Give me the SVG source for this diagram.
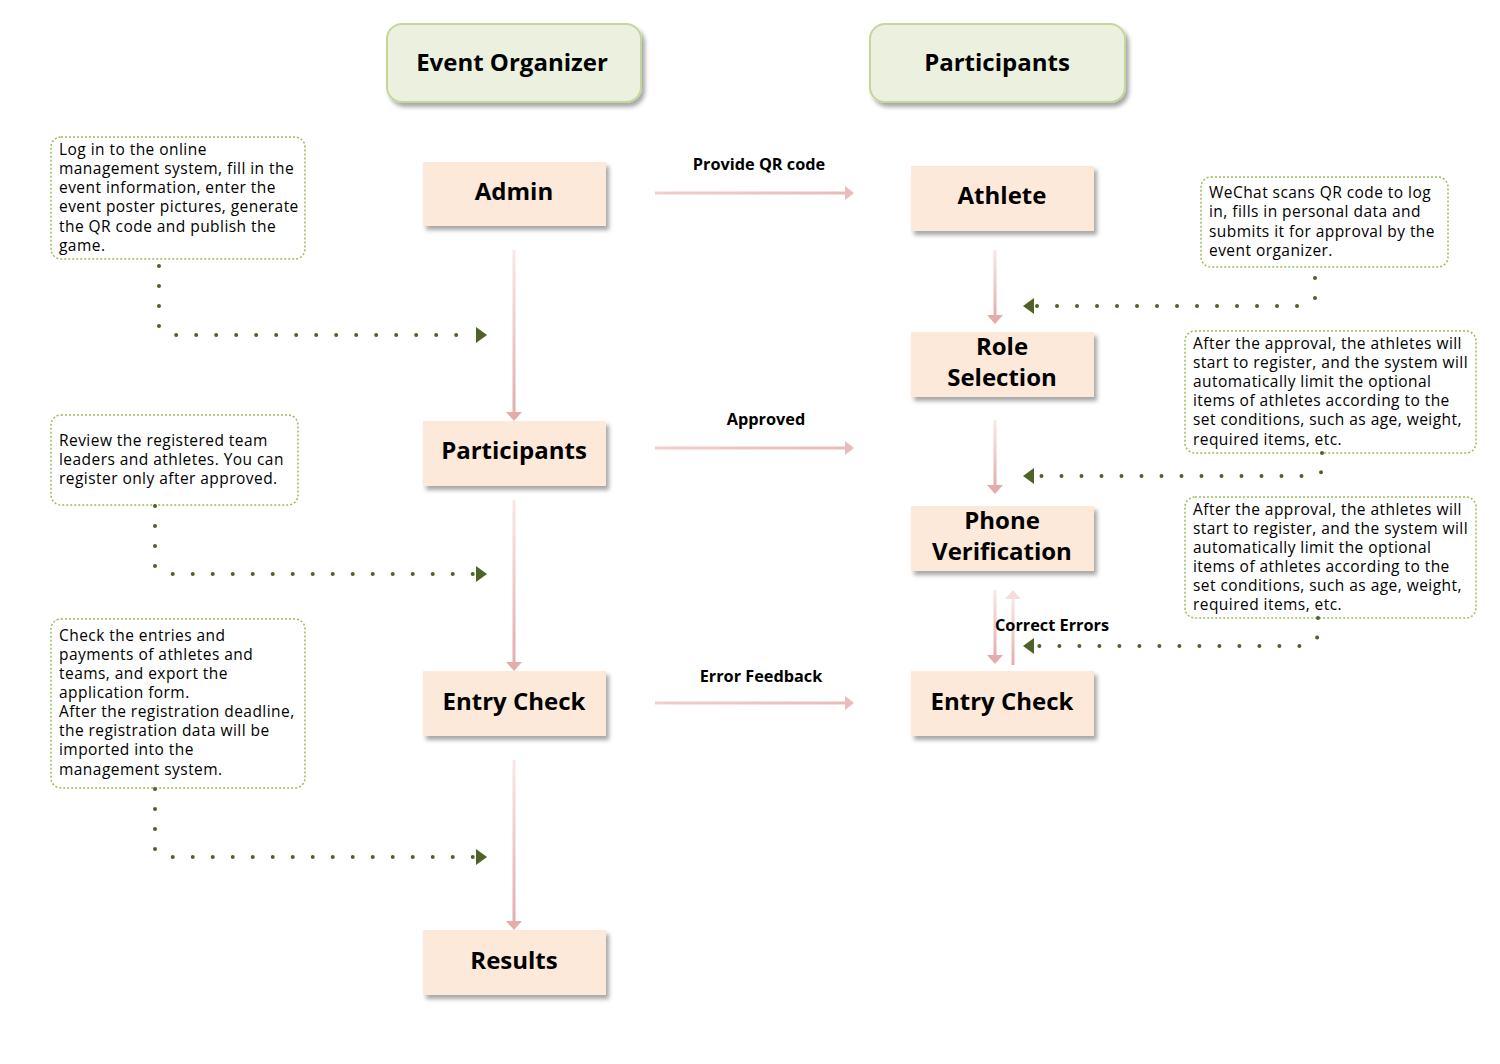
<svg xmlns="http://www.w3.org/2000/svg" width="1500" height="1064" viewBox="0 0 1500 1064">
<defs>
<filter id="sh" x="-10%" y="-10%" width="130%" height="140%">
<feDropShadow dx="3" dy="4" stdDeviation="2" flood-color="#000" flood-opacity="0.35"/>
</filter>
<linearGradient id="gv" x1="0" y1="0" x2="0" y2="1">
<stop offset="0" stop-color="#f9e8e7"/>
<stop offset="1" stop-color="#e4adab"/>
</linearGradient>
<linearGradient id="gh" x1="0" y1="0" x2="1" y2="0">
<stop offset="0" stop-color="#efcecd"/>
<stop offset="1" stop-color="#e9bcbb"/>
</linearGradient>
<marker id="dm" markerUnits="userSpaceOnUse" markerWidth="13" markerHeight="18" refX="0" refY="8" orient="auto">
<path d="M0,0 L11,8 L0,16 z" fill="#4f6228"/>
</marker>
<style>
.hdr{fill:#ebf1de;stroke:#c3d69b;stroke-width:2}
.node{fill:#fde9d9}
.note{fill:#fff;stroke:#9bbb59;stroke-width:1.5;stroke-dasharray:2 2}
.ht{font-family:"Open Sans","Liberation Sans",sans-serif;font-weight:bold;font-size:24px;fill:#000;text-anchor:middle}
.nt{font-family:"Open Sans","Liberation Sans",sans-serif;font-weight:bold;font-size:24px;fill:#000;text-anchor:middle}
.el{font-family:"Open Sans","Liberation Sans",sans-serif;font-weight:bold;font-size:16.3px;fill:#000;text-anchor:middle}
.tx{font-family:"Open Sans","Liberation Sans",sans-serif;font-size:15.5px;letter-spacing:0.45px;fill:#000}
.dot{fill:none;stroke:#4f6228;stroke-width:4;stroke-linecap:round;stroke-dasharray:0 20}
.sv{fill:url(#gv)}
.sh{fill:url(#gh)}
.hv{fill:#e4adab}
.hu{fill:#f6dcdb}
.hh{fill:#e9bcbb}
</style>
</defs>

<g id="hdr-organizer">
<rect class="hdr" x="387" y="24" width="254" height="78" rx="15" filter="url(#sh)"/>
<text class="ht" x="512" y="71">Event Organizer</text>
</g>
<g id="hdr-participants">
<rect class="hdr" x="870" y="24" width="255" height="78" rx="15" filter="url(#sh)"/>
<text class="ht" x="997" y="71">Participants</text>
</g>

<g id="admin">
<rect class="node" x="423" y="162" width="183" height="64" filter="url(#sh)"/>
<text class="nt" x="514" y="200">Admin</text>
</g>
<g id="participants-l">
<rect class="node" x="423" y="421" width="183" height="65" filter="url(#sh)"/>
<text class="nt" x="514" y="459">Participants</text>
</g>
<g id="entry-check-l">
<rect class="node" x="423" y="671" width="183" height="65" filter="url(#sh)"/>
<text class="nt" x="514" y="710">Entry Check</text>
</g>
<g id="results">
<rect class="node" x="423" y="930" width="183" height="65" filter="url(#sh)"/>
<text class="nt" x="514" y="969">Results</text>
</g>

<g id="athlete">
<rect class="node" x="911" y="166" width="183" height="65" filter="url(#sh)"/>
<text class="nt" x="1002" y="204">Athlete</text>
</g>
<g id="role-selection">
<rect class="node" x="911" y="332" width="183" height="65" filter="url(#sh)"/>
<text class="nt" x="1002" y="354.5">Role</text>
<text class="nt" x="1002" y="385.5">Selection</text>
</g>
<g id="phone-verification">
<rect class="node" x="911" y="506" width="183" height="65" filter="url(#sh)"/>
<text class="nt" x="1002" y="529">Phone</text>
<text class="nt" x="1002" y="560">Verification</text>
</g>
<g id="entry-check-r">
<rect class="node" x="911" y="671" width="183" height="65" filter="url(#sh)"/>
<text class="nt" x="1002" y="710">Entry Check</text>
</g>

<g id="note-l1">
<rect class="note" x="51" y="137" width="254" height="122" rx="10"/>
<text class="tx" x="59" y="155">Log in to the online</text>
<text class="tx" x="59" y="174">management system, fill in the</text>
<text class="tx" x="59" y="193">event information, enter the</text>
<text class="tx" x="59" y="212">event poster pictures, generate</text>
<text class="tx" x="59" y="232">the QR code and publish the</text>
<text class="tx" x="59" y="251">game.</text>
</g>
<g id="note-l2">
<rect class="note" x="51" y="415" width="247" height="90" rx="10"/>
<text class="tx" x="59" y="446">Review the registered team</text>
<text class="tx" x="59" y="465">leaders and athletes. You can</text>
<text class="tx" x="59" y="484">register only after approved.</text>
</g>
<g id="note-l3">
<rect class="note" x="51" y="619" width="254" height="169" rx="10"/>
<text class="tx" x="59" y="641">Check the entries and</text>
<text class="tx" x="59" y="660">payments of athletes and</text>
<text class="tx" x="59" y="679">teams, and export the</text>
<text class="tx" x="59" y="698">application form.</text>
<text class="tx" x="59" y="717">After the registration deadline,</text>
<text class="tx" x="59" y="736">the registration data will be</text>
<text class="tx" x="59" y="755">imported into the</text>
<text class="tx" x="59" y="775">management system.</text>
</g>
<g id="note-r1">
<rect class="note" x="1201" y="177" width="247" height="90" rx="10"/>
<text class="tx" x="1209" y="198">WeChat scans QR code to log</text>
<text class="tx" x="1209" y="217">in, fills in personal data and</text>
<text class="tx" x="1209" y="237">submits it for approval by the</text>
<text class="tx" x="1209" y="256">event organizer.</text>
</g>
<g id="note-r2">
<rect class="note" x="1185" y="331" width="291" height="122" rx="10"/>
<text class="tx" x="1193" y="349">After the approval, the athletes will</text>
<text class="tx" x="1193" y="368">start to register, and the system will</text>
<text class="tx" x="1193" y="387">automatically limit the optional</text>
<text class="tx" x="1193" y="406">items of athletes according to the</text>
<text class="tx" x="1193" y="425">set conditions, such as age, weight,</text>
<text class="tx" x="1193" y="445">required items, etc.</text>
</g>
<g id="note-r3">
<rect class="note" x="1185" y="497" width="291" height="121" rx="10"/>
<text class="tx" x="1193" y="515">After the approval, the athletes will</text>
<text class="tx" x="1193" y="534">start to register, and the system will</text>
<text class="tx" x="1193" y="553">automatically limit the optional</text>
<text class="tx" x="1193" y="572">items of athletes according to the</text>
<text class="tx" x="1193" y="591">set conditions, such as age, weight,</text>
<text class="tx" x="1193" y="610">required items, etc.</text>
</g>

<g id="connectors">
<rect class="sv" x="512.5" y="250" width="3" height="163"/>
<polygon class="hv" points="506,412 522,412 514,421"/>
<rect class="sv" x="512.5" y="500" width="3" height="163"/>
<polygon class="hv" points="506,662 522,662 514,671"/>
<rect class="sv" x="512.5" y="760" width="3" height="162"/>
<polygon class="hv" points="506,921 522,921 514,930"/>
<rect class="sv" x="993.5" y="250" width="3" height="66"/>
<polygon class="hv" points="987,315 1003,315 995,324"/>
<rect class="sv" x="993.5" y="420" width="3" height="66"/>
<polygon class="hv" points="987,485 1003,485 995,494"/>
<rect class="sv" x="993.5" y="590" width="3" height="66"/>
<polygon class="hv" points="987,655 1003,655 995,664"/>
<rect class="sv" x="1011.5" y="597" width="3" height="68"/>
<polygon class="hu" points="1005,599 1021,599 1013,590"/>
<rect class="sh" x="655" y="191.5" width="191" height="3"/>
<polygon class="hh" points="845,186 854,193 845,200"/>
<rect class="sh" x="655" y="446.5" width="191" height="3"/>
<polygon class="hh" points="845,441 854,448 845,455"/>
<rect class="sh" x="655" y="701.5" width="191" height="3"/>
<polygon class="hh" points="845,696 854,703 845,710"/>
<text class="el" x="759" y="170">Provide QR code</text>
<text class="el" x="766" y="425">Approved</text>
<text class="el" x="761" y="682">Error Feedback</text>
<text class="el" x="1052" y="631">Correct Errors</text>
<path class="dot" d="M159,266 V326 L172,335 H476" marker-end="url(#dm)"/>
<path class="dot" d="M155,506 V566 L168,574 H476" marker-end="url(#dm)"/>
<path class="dot" d="M155,789 V849 L168,857 H476" marker-end="url(#dm)"/>
<path class="dot" d="M1315,278 V298 L1300,306 H1034" marker-end="url(#dm)"/>
<path class="dot" d="M1322,453 V472 L1306,476 H1034" marker-end="url(#dm)"/>
<path class="dot" d="M1318,618 V637 L1302,646 H1034" marker-end="url(#dm)"/>
</g>
</svg>
